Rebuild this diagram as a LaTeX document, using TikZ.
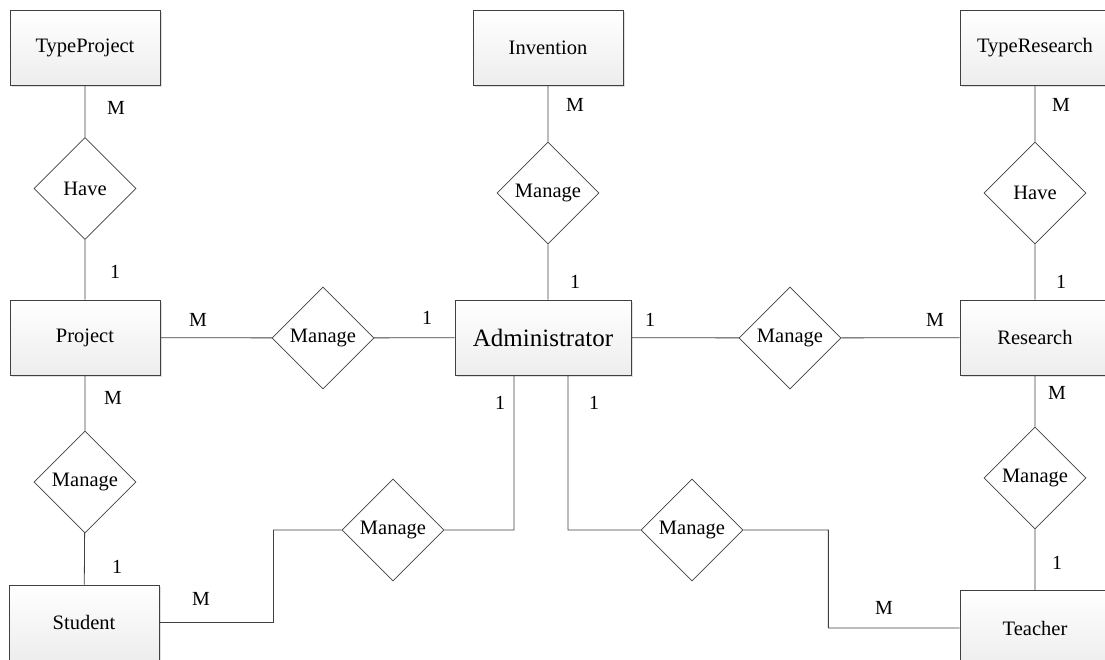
\documentclass[tikz,border=0pt]{standalone}
\usepackage{fontspec}
\setmainfont{Liberation Serif}
\usepackage{tikz}
\usetikzlibrary{shapes.geometric,shadows}

\tikzset{
  entity/.style={draw=black!75, line width=0.8pt, rectangle, minimum width=150pt, minimum height=75pt,
    top color=white, bottom color=gray!14,
    drop shadow={shadow xshift=1.5pt, shadow yshift=-2pt, fill=gray!50, opacity=0.5},
    font=\fontsize{20.5}{23}\selectfont},
  relation/.style={draw=black!75, line width=0.7pt, diamond, fill=white, aspect=1, inner sep=0pt,
    minimum width=102pt, minimum height=102pt, font=\fontsize{20.5}{23}\selectfont},
  card/.style={font=\fontsize{20}{23}\selectfont, inner sep=0pt},
  link/.style={draw=black!75, line width=0.8pt}
}

\begin{document}
\begin{tikzpicture}[x=1pt, y=-1pt]
		\useasboundingbox (0,0) rectangle (1105,660);
		%Entitaeten
		\node[entity] (tproj) at (85,47.5) {TypeProject};
		\node[entity] (inv) at (548,47.5) {Invention};
		\node[entity] (tres) at (1035,47.5) {TypeResearch};
		\node[entity] (proj) at (85,337.5) {Project};
		\node[entity, minimum width=176pt, font=\fontsize{25}{28}\selectfont] (admin) at (543,337.5) {Administrator};
		\node[entity] (res) at (1035,337.5) {Research};
		\node[entity] (stud) at (84,622.5) {Student};
		\node[entity] (teach) at (1035,628) {Teacher};
		
		%Beziehungen
		\node[relation] (hP) at (85,188.5) {Have};
		\node[relation] (mI) at (548,193) {Manage};
		\node[relation] (hR) at (1035,193) {Have};
		\node[relation] (mP) at (323,338) {Manage};
		\node[relation] (mR) at (790,338) {Manage};
		\node[relation] (mS) at (85,482) {Manage};
		\node[relation] (mA) at (393,530) {Manage};
		\node[relation] (mB) at (692,530) {Manage};
		\node[relation] (mT) at (1035,478) {Manage};
		
		\path[link] 
		(tproj) -- (hP)   (hP) -- (proj)
		(inv) -- (mI)     (mI.south) -- (mI.south |- admin.north)
		(tres) -- (hR)    (hR) -- (res)
		(proj) -- (mP)    (mP) -- (admin)
		(admin) -- (mR)   (mR) -- (res)
		(proj) -- (mS)    (mS) -- (stud)
		(res) -- (mT)     (mT) -- (teach)
		(stud.east) -- ++(114,0) |- (mA.west)
		(mA.east) -| ([xshift=-29pt]admin.south)
		([xshift=25pt]admin.south) |- (mB.west)
		(mB.east) -- ++(85,0) |- (teach.west)
		; 
		
		%Kardinalitaeten
		\node[card] (c1) at (116,108) {M};
		\node[card] (c2) at (115,272) {1};
		\node[card] (c3) at (198,320) {M};
		\node[card] (c4) at (427,318) {1};
		\node[card] (c5) at (575,105) {M};
		\node[card] (c6) at (575,282) {1};
		\node[card] (c7) at (650,320) {1};
		\node[card] (c8) at (935,320) {M};
		\node[card] (c9) at (1061,105) {M};
		\node[card] (c10) at (1061,282) {1};
		\node[card] (c11) at (113,398) {M};
		\node[card] (c12) at (117,567) {1};
		\node[card] (c13) at (500,403) {1};
		\node[card] (c14) at (594,403) {1};
		\node[card] (c15) at (201,599) {M};
		\node[card] (c16) at (884,608) {M};
		\node[card] (c17) at (1057,393) {M};
		\node[card] (c18) at (1057,563) {1};
\end{tikzpicture}
\end{document}
